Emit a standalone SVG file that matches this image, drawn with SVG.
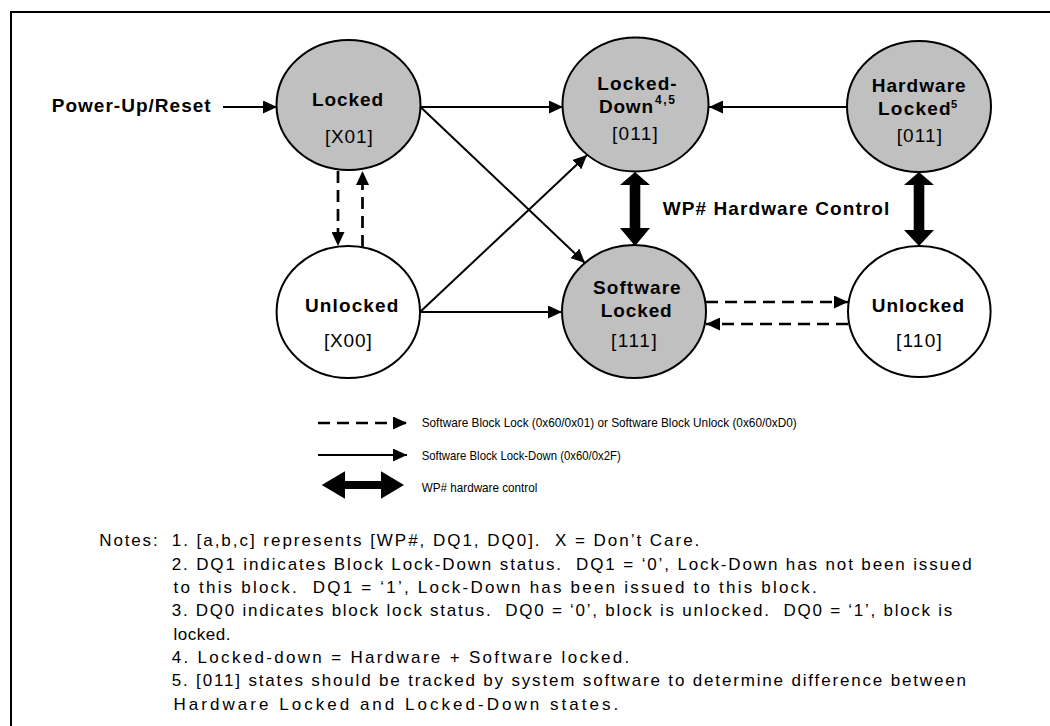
<svg xmlns="http://www.w3.org/2000/svg" width="1050" height="726" viewBox="0 0 1050 726">
<defs>
<style>
text{font-family:"Liberation Sans",Arial,sans-serif;fill:#000}
.b{font-weight:bold;font-size:19px}
.r{font-size:19px}
.sup{font-weight:bold;font-size:12px}
.leg{font-size:13px}
.note{font-size:17px;white-space:pre}
.g{fill:#c0c0c0;stroke:#000;stroke-width:2}
.w{fill:#fff;stroke:#000;stroke-width:2}
.ln{stroke:#000;stroke-width:2;fill:none}
.ds{stroke:#000;stroke-width:2.7;fill:none;stroke-dasharray:12 7}
.thick{fill:#000}
.frame{stroke:#000;stroke-width:2;fill:none}
</style>
<marker id="ah" markerUnits="userSpaceOnUse" markerWidth="14" markerHeight="13" refX="14" refY="6.5" orient="auto"><path d="M0,0 L14,6.5 L0,13 z" fill="#000"/></marker>
</defs>
<rect width="1050" height="726" fill="#fff"/>
<path class="frame" d="M11,726 V12 H1050"/>

<g id="power-up">
<text class="b" x="51.7" y="111.7" textLength="159">Power-Up/Reset</text>
</g>

<g id="node-locked">
<ellipse class="g" cx="348.5" cy="105" rx="72" ry="65"/>
<text class="b" x="312" y="106" textLength="71">Locked</text>
<text class="r" x="325" y="142.5" textLength="47.7">[X01]</text>
</g>

<g id="node-locked-down">
<ellipse class="g" cx="635.5" cy="104.5" rx="73" ry="67"/>
<text class="b" x="597.3" y="90" textLength="79.4">Locked-</text>
<text class="b" x="599" y="113" textLength="54">Down</text>
<text class="sup" x="655" y="104" textLength="20">4,5</text>
<text class="r" x="612" y="140" textLength="45.7">[011]</text>
</g>

<g id="node-hardware-locked">
<ellipse class="g" cx="919" cy="106.5" rx="72" ry="65.5"/>
<text class="b" x="871.7" y="91.7" textLength="94">Hardware</text>
<text class="b" x="878" y="115" textLength="72.7">Locked</text>
<text class="sup" x="951" y="108" style="font-size:11px">5</text>
<text class="r" x="896.7" y="141.7" textLength="45.3">[011]</text>
</g>

<g id="node-unlocked-x00">
<ellipse class="w" cx="348.3" cy="312" rx="71.7" ry="66"/>
<text class="b" x="305" y="311.7" textLength="93.3">Unlocked</text>
<text class="r" x="324" y="346.7" textLength="47.7">[X00]</text>
</g>

<g id="node-software-locked">
<ellipse class="g" cx="634" cy="311.5" rx="72" ry="66.5"/>
<text class="b" x="593" y="294.3" textLength="87.7">Software</text>
<text class="b" x="600.7" y="317.3" textLength="71">Locked</text>
<text class="r" x="611" y="346.7" textLength="45.7">[111]</text>
</g>

<g id="node-unlocked-110">
<ellipse class="w" cx="919.3" cy="311.5" rx="71.3" ry="65.5"/>
<text class="b" x="871.7" y="311.7" textLength="92.3">Unlocked</text>
<text class="r" x="896" y="346.7" textLength="45.7">[110]</text>
</g>

<g id="connectors">
<line class="ln" x1="223" y1="107" x2="277" y2="107" marker-end="url(#ah)"/>
<line class="ln" x1="420.5" y1="107" x2="563" y2="107" marker-end="url(#ah)"/>
<line class="ln" x1="847" y1="107" x2="709" y2="107" marker-end="url(#ah)"/>
<line class="ln" x1="420.5" y1="107" x2="585" y2="263" marker-end="url(#ah)"/>
<line class="ln" x1="420" y1="312" x2="587" y2="155" marker-end="url(#ah)"/>
<line class="ln" x1="420" y1="312" x2="562" y2="312" marker-end="url(#ah)"/>
<line class="ds" x1="338" y1="171" x2="338" y2="246" marker-end="url(#ah)"/>
<line class="ds" x1="362.5" y1="247" x2="362.5" y2="171" marker-end="url(#ah)"/>
<line class="ds" x1="706" y1="302" x2="848" y2="302" marker-end="url(#ah)"/>
<line class="ds" x1="848" y1="324" x2="706" y2="324" marker-end="url(#ah)"/>
<polygon class="thick" points="635,172 650,185 640.3,185 640.3,228 650,228 635,246 620,228 629.7,228 629.7,185 620,185"/>
<polygon class="thick" points="919,172 934,185 924.3,185 924.3,230 934,230 919,246 904,230 913.7,230 913.7,185 904,185"/>
</g>

<g id="wp-label">
<text class="b" x="662.7" y="215" textLength="226.6">WP# Hardware Control</text>
</g>

<g id="legend">
<line class="ds" x1="318" y1="423" x2="407" y2="423" marker-end="url(#ah)"/>
<text class="leg" x="421.7" y="426.5" textLength="375" lengthAdjust="spacingAndGlyphs">Software Block Lock (0x60/0x01) or Software Block Unlock (0x60/0xD0)</text>
<line class="ln" x1="318" y1="455" x2="407" y2="455" marker-end="url(#ah)"/>
<text class="leg" x="421.7" y="459.5" textLength="199" lengthAdjust="spacingAndGlyphs">Software Block Lock-Down (0x60/0x2F)</text>
<polygon class="thick" points="321.7,485 345,471.2 345,481.1 381,481.1 381,471.2 404,485 381,498.8 381,488.9 345,488.9 345,498.8"/>
<text class="leg" x="421.7" y="491.7" textLength="115.6" lengthAdjust="spacingAndGlyphs">WP# hardware control</text>
</g>

<g id="notes">
<text class="note" xml:space="preserve" x="99.3" y="546" textLength="58.4">Notes:</text>
<text class="note" xml:space="preserve" x="171.7" y="546" textLength="527.6">1. [a,b,c] represents [WP#, DQ1, DQ0].  X = Don’t Care.</text>
<text class="note" xml:space="preserve" x="171.7" y="569.5" textLength="800">2. DQ1 indicates Block Lock-Down status.  DQ1 = ‘0’, Lock-Down has not been issued</text>
<text class="note" xml:space="preserve" x="173.5" y="593" textLength="643.2">to this block.  DQ1 = ‘1’, Lock-Down has been issued to this block.</text>
<text class="note" xml:space="preserve" x="171.7" y="616" textLength="780.6">3. DQ0 indicates block lock status.  DQ0 = ‘0’, block is unlocked.  DQ0 = ‘1’, block is</text>
<text class="note" xml:space="preserve" x="173.5" y="639.5" letter-spacing="0.5">locked.</text>
<text class="note" xml:space="preserve" x="171.7" y="663" textLength="457.6">4. Locked-down = Hardware + Software locked.</text>
<text class="note" xml:space="preserve" x="171.7" y="686" textLength="794.3">5. [011] states should be tracked by system software to determine difference between</text>
<text class="note" xml:space="preserve" x="173.5" y="709.5" textLength="444.8">Hardware Locked and Locked-Down states.</text>
</g>
</svg>
